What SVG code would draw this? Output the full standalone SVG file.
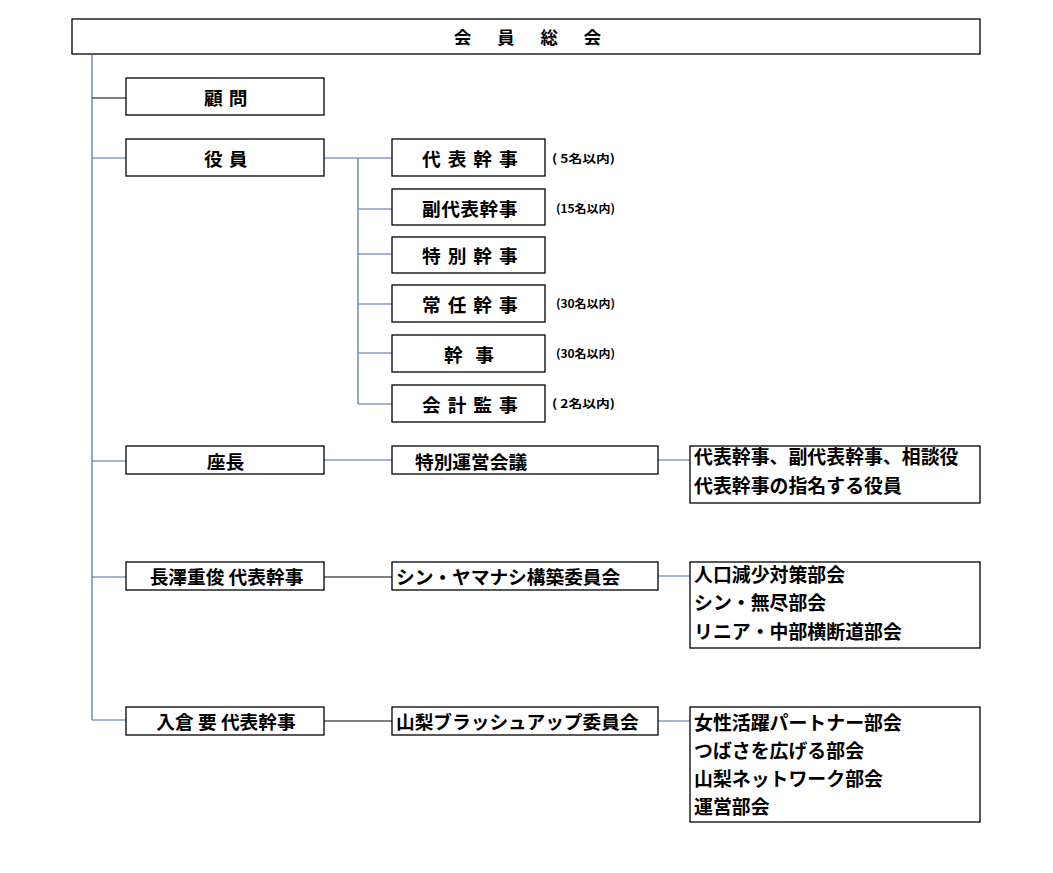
<svg xmlns="http://www.w3.org/2000/svg" width="1053" height="873" viewBox="0 0 1053 873">
<style>
.box{fill:#fff;stroke:#000;stroke-width:1.3}
.t{font-family:"Noto Sans CJK JP","Noto Sans CJK SC",sans-serif;font-weight:bold;font-size:18.7px;fill:#000}
.r{font-size:18.9px}
.s{font-family:"Noto Sans CJK JP","Noto Sans CJK SC",sans-serif;font-weight:bold;font-size:11.5px;fill:#000}
.c{fill:none;stroke:#4a6ea9;stroke-width:1.2}
.k{fill:none;stroke:#000;stroke-width:1.2}
</style>
<rect width="1053" height="873" fill="#fff"/>
<g id="connectors">
<path class="c" d="M92 55V720"/>
<path class="k" d="M92 98H126"/>
<path class="c" d="M92 158H126"/>
<path class="c" d="M324 158H392M358 158V404M358 209H392M358 254H392M358 304H392M358 353H392M358 404H392"/>
<path class="c" d="M92 461H126M324 460H392M658 460H690"/>
<path class="c" d="M92 577H126M658 576H690"/>
<path class="k" d="M324 577H392"/>
<path class="c" d="M92 720H126M658 721H690"/>
<path class="k" d="M324 721H392"/>
</g>
<g id="n-sokai"><rect class="box" x="72" y="19" width="908" height="35"/><text class="t" x="454" y="43.5" style="font-size:17.3px" letter-spacing="26">会員総会</text></g>
<g id="n-komon"><rect class="box" x="126" y="78" width="198" height="37"/><text class="t" x="204" y="104.5" letter-spacing="6">顧問</text></g>
<g id="n-yakuin"><rect class="box" x="126" y="139" width="198" height="37"/><text class="t" x="204" y="165.5" letter-spacing="6">役員</text></g>
<g id="n-daihyo"><rect class="box" x="392" y="139" width="153" height="37"/><text class="t" x="422" y="166" letter-spacing="7">代表幹事</text><text class="s" x="552" y="162.5" textLength="63" lengthAdjust="spacingAndGlyphs">( 5名以内)</text></g>
<g id="n-fukudaihyo"><rect class="box" x="392" y="189" width="153" height="36"/><text class="t" x="422" y="215.5" letter-spacing="0.5">副代表幹事</text><text class="s" x="556" y="212.5" textLength="59" lengthAdjust="spacingAndGlyphs">(15名以内)</text></g>
<g id="n-tokubetsu"><rect class="box" x="392" y="237" width="153" height="36"/><text class="t" x="422" y="263" letter-spacing="7">特別幹事</text></g>
<g id="n-jonin"><rect class="box" x="392" y="285" width="153" height="37"/><text class="t" x="422" y="311.5" letter-spacing="7">常任幹事</text><text class="s" x="556" y="308" textLength="59" lengthAdjust="spacingAndGlyphs">(30名以内)</text></g>
<g id="n-kanji"><rect class="box" x="392" y="335" width="153" height="37"/><text class="t" x="444" y="361.5" letter-spacing="12.6">幹事</text><text class="s" x="556" y="358" textLength="59" lengthAdjust="spacingAndGlyphs">(30名以内)</text></g>
<g id="n-kaikei"><rect class="box" x="392" y="385" width="153" height="37"/><text class="t" x="422" y="411.5" letter-spacing="7">会計監事</text><text class="s" x="552" y="408" textLength="63" lengthAdjust="spacingAndGlyphs">( 2名以内)</text></g>
<g id="n-zacho"><rect class="box" x="126" y="446" width="198" height="28"/><text class="t" x="225.5" y="469" text-anchor="middle">座長</text></g>
<g id="n-tokubetsu-unei"><rect class="box" x="392" y="446" width="266" height="28"/><text class="t" x="415" y="468.5">特別運営会議</text></g>
<g id="n-unei-members"><rect class="box" x="690" y="446" width="290" height="57"/><text class="t r" x="694" y="463.5">代表幹事、副代表幹事、相談役</text><text class="t r" x="694" y="493">代表幹事の指名する役員</text></g>
<g id="n-nagasawa"><rect class="box" x="126" y="562" width="198" height="28"/><text class="t" x="226.5" y="583.5" text-anchor="middle">長澤重俊 代表幹事</text></g>
<g id="n-shin-yamanashi"><rect class="box" x="392" y="562" width="266" height="28"/><text class="t" x="396" y="583.5">シン・ヤマナシ構築委員会</text></g>
<g id="n-shin-bukai"><rect class="box" x="690" y="562" width="290" height="86"/><text class="t r" x="694" y="582">人口減少対策部会</text><text class="t r" x="694" y="610">シン・無尽部会</text><text class="t r" x="694" y="639">リニア・中部横断道部会</text></g>
<g id="n-irikura"><rect class="box" x="126" y="707" width="198" height="28"/><text class="t" x="226" y="728.5" text-anchor="middle">入倉 要 代表幹事</text></g>
<g id="n-brushup"><rect class="box" x="392" y="707" width="266" height="28"/><text class="t" x="396" y="728.5">山梨ブラッシュアップ委員会</text></g>
<g id="n-brushup-bukai"><rect class="box" x="690" y="707" width="290" height="115"/><text class="t r" x="694" y="729.5">女性活躍パートナー部会</text><text class="t r" x="694" y="758">つばさを広げる部会</text><text class="t r" x="694" y="786">山梨ネットワーク部会</text><text class="t r" x="694" y="814">運営部会</text></g>
</svg>
